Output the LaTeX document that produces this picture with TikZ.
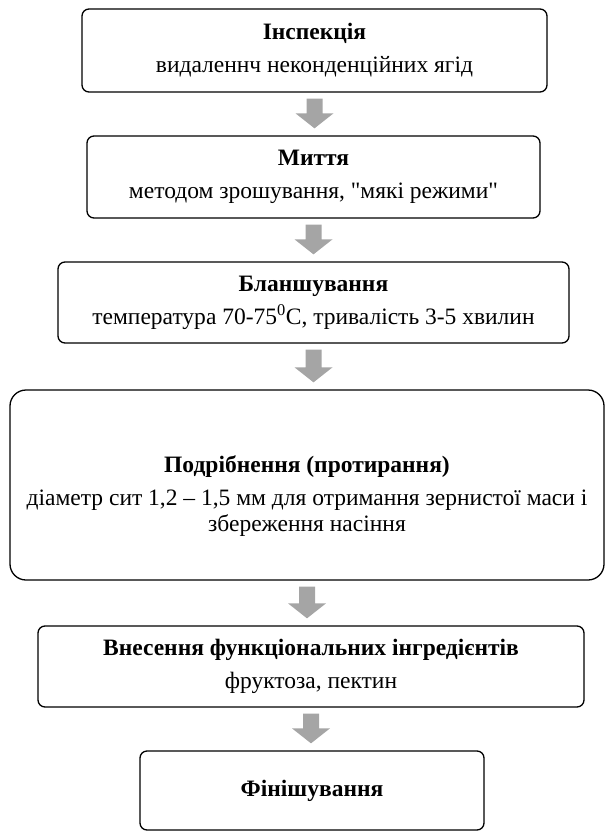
\documentclass[tikz,border=0pt]{standalone}
\usepackage{fontspec}
\setmainfont{Liberation Serif}
\newfontfamily\plainquotes{Liberation Serif}
\usetikzlibrary{calc}
\definecolor{arrowgray}{HTML}{A5A5A5}
\tikzset{
  steptext/.style={align=center, font=\fontsize{23.5}{26}\selectfont, inner sep=0pt},
  stepbox/.style={steptext, draw=black, line width=1.3pt, rounded corners=7pt, fill=white},
  bigbox/.style={stepbox, rounded corners=16pt},
}
\newcommand\flowarrow[2]{%
  \fill[arrowgray] let \p1=($(#1.south)+(0,6)$), \p2=($(#2.north)+(0,-7)$) in
  (\x1-8pt,\y1) -- (\x1+8pt,\y1) -- (\x1+8pt,\y2+15pt) -- (\x1+19pt,\y2+15pt)
  -- (\x1,\y2) -- (\x1-19pt,\y2+15pt) -- (\x1-8pt,\y2+15pt) -- cycle;}
\begin{document}
\begin{tikzpicture}[x=1pt,y=-1pt]
\useasboundingbox (0,0) rectangle (614,832);
\node[stepbox, minimum width=465, minimum height=83] (b1) at (314.5,50.5)
  {\textbf{Інспекція}\\[7pt]видаленнч неконденційних ягід};
\node[stepbox, minimum width=453, minimum height=82] (b2) at (313.5,177)
  {\textbf{Миття}\\[7pt]{\plainquotes методом зрошування, "мякі режими"}};
\node[stepbox, minimum width=511, minimum height=81] (b3) at (313.5,302.5)
  {\textbf{Бланшування}\\[7pt]температура 70-75\textsuperscript{0}С, тривалість 3-5 хвилин};
\node[bigbox, minimum width=594, minimum height=190] (b4) at (307,485) {};
\node[steptext] (b4t) at (307,496)
  {\textbf{Подрібнення (протирання)}\\[7pt]діаметр сит 1,2 – 1,5 мм для отримання зернистої маси і\\збереження насіння};
\node[stepbox, minimum width=546, minimum height=81] (b5) at (311,666.5)
  {\textbf{Внесення функціональних інгредієнтів}\\[7pt]фруктоза, пектин};
\node[stepbox, minimum width=344, minimum height=79] (b6) at (312,790.5)
  {\textbf{Фінішування}};
\flowarrow{b1}{b2}
\flowarrow{b2}{b3}
\flowarrow{b3}{b4}
\flowarrow{b4}{b5}
\flowarrow{b5}{b6}
\end{tikzpicture}
\end{document}
